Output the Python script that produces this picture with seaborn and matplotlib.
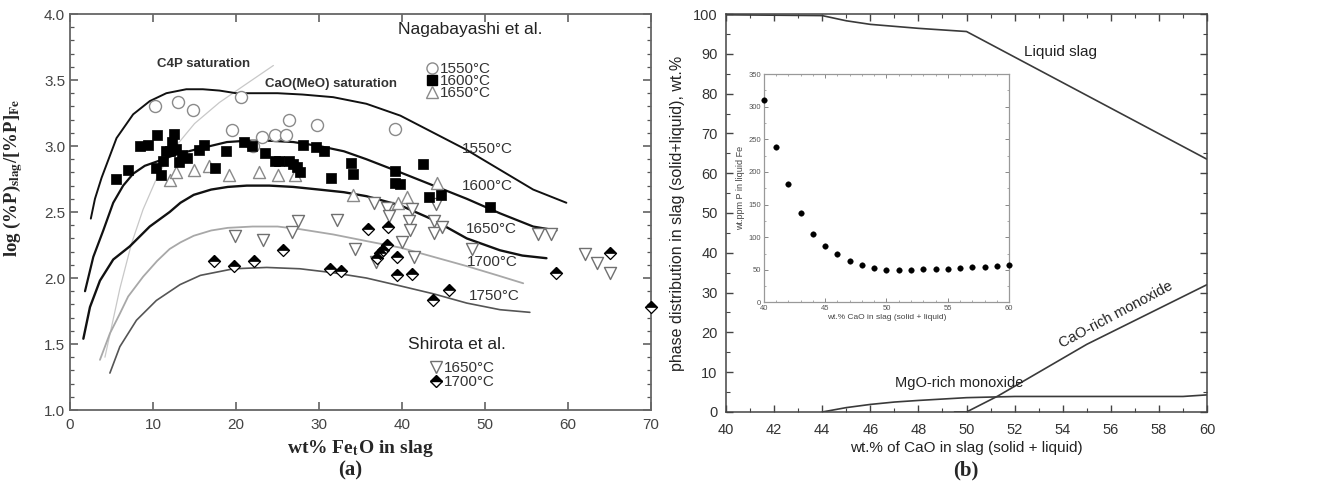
import matplotlib
matplotlib.use("Agg")
import matplotlib.pyplot as plt
from matplotlib.ticker import MultipleLocator
from matplotlib.lines import Line2D
import numpy as np
import pandas as pd
import seaborn as sns

# ============================ panel (a) data ============================
# model curves (log Lp vs wt% FetO)
c1550_x = [2.5, 3.0, 3.8, 5.6, 7.6, 9.6, 11.6, 14.0, 16.0, 18.0, 20.0, 22.0, 25.0, 28.0,
           31.7, 35.7, 39.8, 43.8, 47.8, 51.8, 55.8, 59.8]
c1550_y = [2.45, 2.60, 2.76, 3.06, 3.24, 3.34, 3.40, 3.43, 3.43, 3.42, 3.40, 3.40, 3.40, 3.39,
           3.37, 3.32, 3.23, 3.10, 2.97, 2.82, 2.67, 2.57]
c1600_x = [1.8, 2.8, 4.0, 5.2, 6.4, 7.6, 9.0, 10.8, 12.5, 14.9, 18.9, 21.3, 24.0, 26.9, 30.0,
           33.0, 35.7, 39.8, 43.8, 47.8, 51.8, 55.8, 58.6]
c1600_y = [1.90, 2.16, 2.36, 2.57, 2.70, 2.79, 2.85, 2.89, 2.93, 2.97, 3.03, 3.04, 3.04, 3.03, 3.00,
           2.96, 2.90, 2.80, 2.70, 2.60, 2.49, 2.39, 2.36]
c1650_x = [1.6, 2.4, 3.6, 5.2, 7.2, 8.0, 9.6, 12.0, 13.3, 14.9, 17.0, 19.0, 21.3, 24.0, 26.9,
           30.0, 33.0, 35.7, 39.8, 43.8, 47.8, 51.8, 54.5, 57.4]
c1650_y = [1.54, 1.78, 1.98, 2.14, 2.24, 2.29, 2.39, 2.50, 2.57, 2.63, 2.67, 2.69, 2.70, 2.70, 2.69,
           2.67, 2.65, 2.62, 2.55, 2.44, 2.30, 2.21, 2.17, 2.15]
c1700_x = [3.6, 4.8, 6.0, 7.0, 8.8, 10.5, 12.0, 13.3, 14.9, 17.0, 19.0, 22.0, 25.0, 27.7, 31.7,
           35.7, 39.8, 43.8, 47.8, 51.5, 54.6]
c1700_y = [1.38, 1.58, 1.73, 1.86, 2.01, 2.13, 2.22, 2.27, 2.32, 2.36, 2.38, 2.39, 2.39, 2.37, 2.33,
           2.28, 2.23, 2.16, 2.09, 2.02, 1.96]
c1750_x = [4.8, 6.0, 8.0, 10.4, 13.25, 15.7, 19.7, 23.7, 27.7, 31.7, 35.7, 39.8, 43.8, 47.8, 51.8, 55.4]
c1750_y = [1.28, 1.48, 1.68, 1.83, 1.95, 2.02, 2.07, 2.08, 2.07, 2.04, 2.00, 1.94, 1.88, 1.81, 1.76, 1.74]
c4p_x = [4.2, 5.0, 6.0, 7.4, 8.8, 10.6, 12.5, 15.0, 18.0, 21.0, 24.5]
c4p_y = [1.40, 1.63, 1.92, 2.26, 2.52, 2.78, 2.98, 3.17, 3.33, 3.46, 3.61]
curve_labels = ["1550°C", "1600°C", "1650°C", "1700°C", "1750°C"]

# Nagabayashi et al. measurements
n1550_x = [10.2, 13.0, 14.8, 19.5, 20.6, 22.0, 23.1, 24.7, 26.0, 26.4, 29.8, 39.2]
n1550_y = [3.30, 3.33, 3.27, 3.12, 3.37, 3.00, 3.07, 3.08, 3.08, 3.20, 3.16, 3.13]
n1600_x = [5.5, 7.0, 8.4, 9.4, 10.5, 10.4, 10.9, 11.2, 11.6, 12.1, 12.3, 12.5, 12.8, 13.1, 13.5,
           14.1, 15.5, 16.1, 17.5, 18.8, 20.9, 21.9, 23.5, 24.7, 25.2, 26.4, 26.9, 27.4, 27.7,
           28.1, 29.6, 30.6, 31.4, 33.8, 34.1, 39.1, 39.1, 39.7, 42.5, 43.2, 44.7, 50.6]
n1600_y = [2.75, 2.82, 3.00, 3.01, 3.08, 2.83, 2.78, 2.89, 2.96, 2.96, 3.03, 3.09, 2.98, 2.88, 2.93,
           2.91, 2.97, 3.01, 2.83, 2.96, 3.03, 3.00, 2.95, 2.89, 2.89, 2.89, 2.86, 2.84, 2.80,
           3.01, 2.99, 2.96, 2.76, 2.87, 2.79, 2.81, 2.72, 2.71, 2.86, 2.61, 2.63, 2.54]
n1650_x = [12.0, 12.8, 14.9, 16.7, 19.2, 22.8, 25.1, 27.1, 34.1, 39.5, 40.6, 44.2]
n1650_y = [2.74, 2.80, 2.82, 2.85, 2.78, 2.80, 2.78, 2.78, 2.63, 2.57, 2.61, 2.72]
# Shirota et al. measurements
s1650_x = [19.9, 23.2, 26.7, 27.5, 32.2, 34.3, 36.6, 36.9, 38.2, 38.4, 40.0, 40.8, 40.9, 41.2,
           41.4, 43.8, 43.8, 44.1, 44.8, 48.4, 56.4, 58.0, 62.0, 63.5, 65.1]
s1650_y = [2.32, 2.29, 2.35, 2.43, 2.44, 2.22, 2.57, 2.12, 2.53, 2.47, 2.27, 2.43, 2.36, 2.52,
           2.16, 2.34, 2.43, 2.56, 2.39, 2.22, 2.33, 2.33, 2.18, 2.11, 2.04]
s1700_x = [17.3, 19.7, 22.2, 25.7, 31.3, 32.6, 35.9, 37.0, 37.3, 37.7, 38.2, 38.3, 39.4, 39.4,
           41.2, 43.7, 45.7, 58.6, 65.1, 70.0]
s1700_y = [2.13, 2.09, 2.13, 2.21, 2.07, 2.05, 2.37, 2.15, 2.19, 2.21, 2.25, 2.39, 2.16, 2.02,
           2.03, 1.83, 1.91, 2.04, 2.19, 1.78]

# ============================ panel (b) data ============================
liq_x = [40, 44, 45, 46, 47, 48, 50, 60]
liq_y = [99.8, 99.6, 98.3, 97.4, 96.9, 96.4, 95.6, 63.5]
mgo_x = [44, 45, 46, 47, 48, 50, 52, 55, 59, 60]
mgo_y = [0.0, 1.1, 1.9, 2.5, 2.9, 3.6, 3.9, 3.9, 3.9, 4.3]
cao_x = [49.5, 50, 51.3, 55, 60]
cao_y = [0.0, 0.0, 4.0, 17.0, 32.0]
ins_x = [40, 41, 42, 43, 44, 45, 46, 47, 48, 49, 50, 51, 52, 53, 54, 55, 56, 57, 58, 59, 60]
ins_y = [310, 238, 181, 137, 105, 86, 74, 64, 58, 53, 50, 50, 50, 51, 52, 52, 53, 54, 55, 56, 57]

# ============================ style ============================
sns.set_style("ticks")
plt.rcParams["font.family"] = ["Liberation Sans", "DejaVu Sans"]
plt.rcParams["mathtext.fontset"] = "stix"
SERIF = ["Liberation Serif", "DejaVu Serif"]

fig = plt.figure(figsize=(13.27, 4.95), dpi=100)
axA = fig.add_axes([0.0528, 0.1717, 0.4378, 0.800])
axB = fig.add_axes([0.5471, 0.1677, 0.3625, 0.804])
axI = fig.add_axes([0.5755, 0.3889, 0.1850, 0.4616])

# ---------------------------- panel (a) ----------------------------
curves = [(c4p_x, c4p_y, "#c8c8c8", 0.9),
          (c1550_x, c1550_y, "#111111", 1.4),
          (c1600_x, c1600_y, "#111111", 1.6),
          (c1650_x, c1650_y, "#111111", 1.7),
          (c1700_x, c1700_y, "#a8a8a8", 1.3),
          (c1750_x, c1750_y, "#555555", 1.2)]
for cx, cy, col, lw in curves:
    sns.lineplot(x=cx, y=cy, ax=axA, color=col, lw=lw, sort=False, estimator=None, zorder=2)

diamond = [(0, 1), (1, 0), (0, -1), (-1, 0), (0, 1)]
top_half = [(-1, 0), (0, 1), (1, 0), (-1, 0)]

sns.scatterplot(x=n1550_x, y=n1550_y, ax=axA, marker="o", s=75, color="white",
                edgecolor="#8a8a8a", linewidth=1.0, zorder=3)
sns.scatterplot(x=n1600_x, y=n1600_y, ax=axA, marker="s", s=48, color="black",
                edgecolor="black", linewidth=0.5, zorder=4)
sns.scatterplot(x=n1650_x, y=n1650_y, ax=axA, marker="^", s=75, color="white",
                edgecolor="#8a8a8a", linewidth=1.0, zorder=3)
sns.scatterplot(x=s1650_x, y=s1650_y, ax=axA, marker="v", s=75, color="white",
                edgecolor="#707070", linewidth=1.0, zorder=3)
sns.scatterplot(x=s1700_x, y=s1700_y, ax=axA, marker=diamond, s=75, color="white",
                edgecolor="black", linewidth=0.9, zorder=4, clip_on=False)
sns.scatterplot(x=s1700_x, y=s1700_y, ax=axA, marker=top_half, s=75, color="black",
                edgecolor="black", linewidth=0.5, zorder=5, clip_on=False)

axA.set_xlim(0, 70)
axA.set_ylim(1.0, 4.0)
axA.xaxis.set_major_locator(MultipleLocator(10))
axA.yaxis.set_major_locator(MultipleLocator(0.5))
axA.yaxis.set_minor_locator(MultipleLocator(0.1))
axA.yaxis.set_major_formatter(matplotlib.ticker.FormatStrFormatter("%.1f"))
axA.tick_params(which="both", direction="in", top=True, right=True, colors="#555555",
                labelcolor="#444444", labelsize=11)
axA.tick_params(which="major", length=6, width=1.1)
axA.tick_params(which="minor", length=3, width=0.9)
axA.tick_params(axis="x", pad=6)
for sp in axA.spines.values():
    sp.set_color("#666666")
    sp.set_linewidth(1.3)

axA.set_xlabel(r"wt% Fe$_{\mathbf{t}}$O in slag", family=SERIF, fontweight="bold",
               fontsize=14, labelpad=4)
axA.set_ylabel(r"log (%P)$_{\mathbf{slag}}$/[%P]$_{\mathbf{Fe}}$", family=SERIF,
               fontweight="bold", fontsize=13.5)
axA.yaxis.set_label_coords(-0.078, 0.585)

# curve labels
lab_pos = [(47.2, 2.98), (47.2, 2.70), (47.7, 2.37), (47.8, 2.12), (48.1, 1.86)]
for (lx, ly), txt in zip(lab_pos, curve_labels):
    axA.text(lx, ly, txt, fontsize=11, color="#333333", va="center", ha="left")
axA.text(10.5, 3.62, "C4P saturation", fontsize=9.5, fontweight="bold", color="#333333",
         va="center", ha="left")
axA.text(23.5, 3.47, "CaO(MeO) saturation", fontsize=9.5, fontweight="bold", color="#333333",
         va="center", ha="left")

# legends (titles as texts, entries as legends)
axA.text(48.2, 3.88, "Nagabayashi et al.", fontsize=12.5, color="#222222", ha="center",
         va="center")
axA.text(46.6, 1.50, "Shirota et al.", fontsize=12.5, color="#222222", ha="center", va="center")
h_n = [Line2D([], [], ls="", marker="o", ms=8, mfc="white", mec="#8a8a8a"),
       Line2D([], [], ls="", marker="s", ms=6.5, mfc="black", mec="black"),
       Line2D([], [], ls="", marker="^", ms=8, mfc="white", mec="#8a8a8a")]
h_s = [Line2D([], [], ls="", marker="v", ms=8, mfc="white", mec="#707070"),
       Line2D([], [], ls="", marker="D", ms=6.5, fillstyle="top", mfc="black",
              mfcalt="white", mec="black")]
leg_kw = dict(frameon=False, fontsize=11, handlelength=0.8, handletextpad=0.15,
              labelspacing=-0.12, borderpad=0.0, borderaxespad=0.0, labelcolor="#333333")
leg1 = axA.legend(h_n, ["1550°C", "1600°C", "1650°C"], loc="upper left",
                  bbox_to_anchor=(0.612, 0.879), **leg_kw)
axA.add_artist(leg1)
leg_kw["labelspacing"] = 0.0
leg2 = axA.legend(h_s, ["1650°C", "1700°C"], loc="upper left",
                  bbox_to_anchor=(0.619, 0.124), **leg_kw)

# ---------------------------- panel (b) ----------------------------
for bx, by in [(liq_x, liq_y), (mgo_x, mgo_y), (cao_x, cao_y)]:
    sns.lineplot(x=bx, y=by, ax=axB, color="#3a3a3a", lw=1.2, sort=False, estimator=None)
axB.set_xlim(40, 60)
axB.set_ylim(0, 100)
axB.xaxis.set_major_locator(MultipleLocator(2))
axB.xaxis.set_minor_locator(MultipleLocator(1))
axB.yaxis.set_major_locator(MultipleLocator(10))
axB.yaxis.set_minor_locator(MultipleLocator(5))
axB.tick_params(which="both", direction="in", top=True, right=True, colors="#444444",
                labelcolor="#333333", labelsize=10.5)
axB.tick_params(which="major", length=5, width=1.0)
axB.tick_params(which="minor", length=3, width=0.8)
axB.tick_params(axis="x", pad=8)
axB.tick_params(axis="y", pad=6)
for sp in axB.spines.values():
    sp.set_color("#444444")
    sp.set_linewidth(1.1)
axB.set_xlabel("wt.% of CaO in slag (solid + liquid)", fontsize=11, color="#222222", labelpad=3)
axB.set_ylabel("phase distribution in slag (solid+liquid), wt.%", fontsize=11.5,
               color="#222222", labelpad=6)
axB.text(52.4, 90.5, "Liquid slag", fontsize=11, color="#222222", ha="left", va="center")
axB.text(49.7, 7.3, "MgO-rich monoxide", fontsize=10.5, color="#222222", ha="center",
         va="center")
axB.text(56.2, 24.4, "CaO-rich monoxide", fontsize=10.5, color="#222222", ha="center",
         va="center", rotation=28, rotation_mode="anchor")

# inset
sns.scatterplot(x=ins_x, y=ins_y, ax=axI, color="black", s=16, edgecolor="black",
                linewidth=0.3, zorder=4, clip_on=False)
axI.set_xlim(40, 60)
axI.set_ylim(0, 350)
axI.xaxis.set_major_locator(MultipleLocator(5))
axI.xaxis.set_minor_locator(MultipleLocator(1))
axI.yaxis.set_major_locator(MultipleLocator(50))
axI.yaxis.set_minor_locator(MultipleLocator(25))
axI.tick_params(which="both", direction="in", top=True, right=True, colors="#888888",
                labelcolor="#555555", labelsize=5.5, pad=2)
axI.tick_params(which="major", length=3, width=0.7)
axI.tick_params(which="minor", length=1.5, width=0.5)
for sp in axI.spines.values():
    sp.set_color("#999999")
    sp.set_linewidth(0.9)
axI.set_xlabel("wt.% CaO in slag (solid + liquid)", fontsize=6, color="#444444", labelpad=1)
axI.set_ylabel("wt.ppm P in liquid Fe", fontsize=6.5, color="#444444", labelpad=2)

# captions
fig.text(0.2638, 0.05, "(a)", ha="center", va="center", fontsize=15, fontweight="bold",
         family=SERIF)
fig.text(0.728, 0.05, "(b)", ha="center", va="center", fontsize=15, fontweight="bold",
         family=SERIF)

fig.savefig("out.png", dpi=100, facecolor="white")
